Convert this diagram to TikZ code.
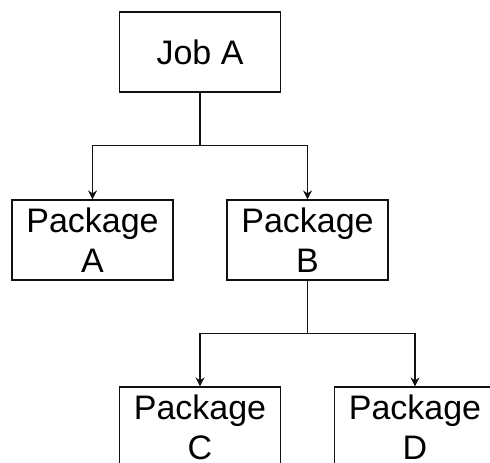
\documentclass[tikz,border=0pt]{standalone}
\usepackage{fontspec}
\setmainfont{Liberation Sans}
\usepackage{xcolor}
\definecolor{LineBlack}{HTML}{111111}
\usepackage{tikz}
\usetikzlibrary{arrows.meta}

\begin{document}
\begin{tikzpicture}[x=1pt, y=-1pt,
    pkgbox/.style={draw=LineBlack, line width=1.1pt, minimum width=161pt, minimum height=80pt,
      inner sep=0pt, align=center, font=\fontsize{34}{40}\selectfont},
    link/.style={draw=LineBlack, line width=1.1pt, -{Stealth[length=9pt, width=9pt]}}]
    % Page frame, the lower and right boxes run past it
    \useasboundingbox (0,0) rectangle (490,463);
    \clip (0,0) rectangle (490,463);

    % Boxes
    \node[pkgbox] (jobA) at (200, 52) {Job A};
    \node[pkgbox] (pkgA) at (92.5, 240) {Package\\A};
    \node[pkgbox] (pkgB) at (307.5, 240) {Package\\B};
    \node[pkgbox] (pkgC) at (200, 427) {Package\\C};
    \node[pkgbox] (pkgD) at (415, 427) {Package\\D};

    % Connectors
    \draw[link] (jobA.south) -- ++(0,53) -| (pkgA.north);
    \draw[link] (jobA.south) -- ++(0,53) -| (pkgB.north);
    \draw[link] (pkgB.south) -- ++(0,53) -| (pkgC.north);
    \draw[link] (pkgB.south) -- ++(0,53) -| (pkgD.north);
  \end{tikzpicture}
\end{document}
